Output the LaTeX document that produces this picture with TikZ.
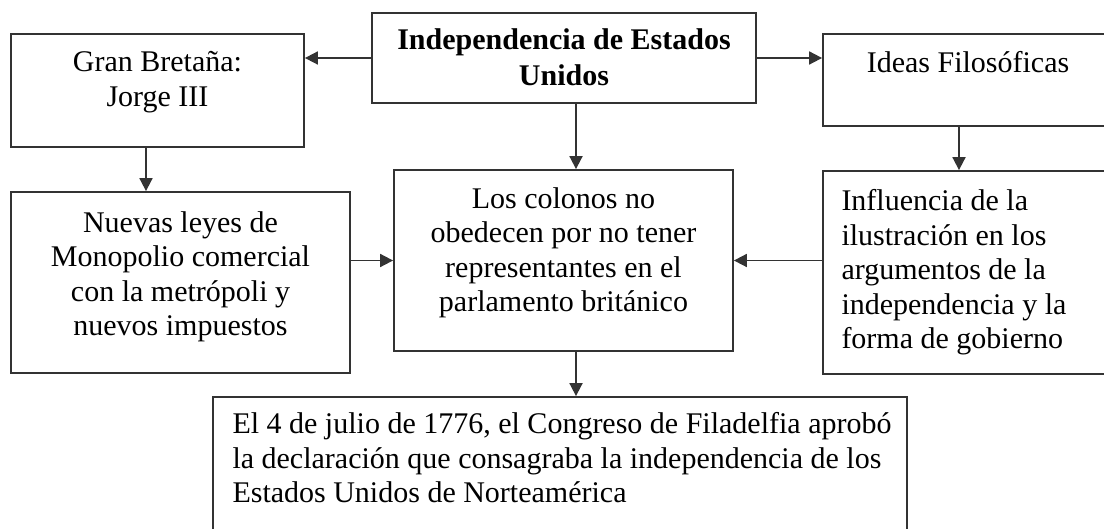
\documentclass[tikz,border=0pt]{standalone}
\usepackage{fontspec}
\setmainfont{Liberation Serif}
\usetikzlibrary{positioning,arrows.meta}
\begin{document}
\begin{tikzpicture}[x=0.5pt,y=-0.5pt,
    box/.style={draw=black!80,line width=0.9pt,inner sep=0pt},
    txt/.style={inner sep=0pt,font=\fontsize{15}{17.25}\selectfont},
    arr/.style={draw=black!80,line width=0.9pt,-{Triangle[length=6.5pt,width=6.5pt]}}]
  \useasboundingbox (0,0) rectangle (1104,529);
  \clip (0,0) rectangle (1104,529);
  % boxes
  \node[box,minimum width=192pt,minimum height=45pt] (indep) at (564,58) {};
  \node[box,minimum width=146.5pt,minimum height=56.5pt] (gb) at (157.5,90.5) {};
  \node[box,minimum width=145pt,minimum height=46pt] (ideas) at (968,80) {};
  \node[box,minimum width=169.5pt,minimum height=90.5pt] (leyes) at (180.5,282.5) {};
  \node[box,minimum width=169.5pt,minimum height=90.5pt] (colonos) at (563.5,260.5) {};
  \node[box,minimum width=145pt,minimum height=101.5pt] (influ) at (968,272.5) {};
  \node[box,minimum width=347pt,minimum height=80pt] (decl) at (560,477) {};
  % texts
  \node[txt,align=center,below=8pt of indep.north,font=\fontsize{15}{18}\selectfont\bfseries] (indeptxt)
    {Independencia de Estados\\Unidos};
  \node[txt,align=center,below=9pt of gb.north] (gbtxt) {Gran Bretaña:\\Jorge III};
  \node[txt,align=center,below=9pt of ideas.north] (ideastxt) {Ideas Filosóficas};
  \node[txt,align=center,below=10pt of leyes.north] (leyestxt)
    {Nuevas leyes de\\Monopolio comercial\\con la metrópoli y\\nuevos impuestos};
  \node[txt,align=center,below=9pt of colonos.north] (colonostxt)
    {Los colonos no\\obedecen por no tener\\representantes en el\\parlamento británico};
  \node[txt,align=left,below right=9.5pt and 9.5pt of influ.north west] (influtxt)
    {Influencia de la\\ilustración en los\\argumentos de la\\independencia y la\\forma de gobierno};
  \node[txt,align=left,below right=8pt and 10pt of decl.north west] (decltxt)
    {El 4 de julio de 1776, el Congreso de Filadelfia aprobó\\la declaración que consagraba la independencia de los\\Estados Unidos de Norteamérica};
  % arrows
  \draw[arr] (indep.west) -- (gb.east |- indep.west);
  \draw[arr] (indep.east) -- (ideas.west |- indep.east);
  \draw[arr] ([xshift=6pt]indep.south) -- ([xshift=6pt]indep.south |- colonos.north);
  \draw[arr] ([xshift=-5.75pt]gb.south) -- ([xshift=-5.75pt]gb.south |- leyes.north);
  \draw[arr] ([xshift=-4.5pt]ideas.south) -- ([xshift=-4.5pt]ideas.south |- influ.north);
  \draw[arr] (leyes.east |- colonos.west) -- (colonos.west);
  \draw[arr] (influ.west |- colonos.east) -- (colonos.east);
  \draw[arr] ([xshift=6.25pt]colonos.south) -- ([xshift=6.25pt]colonos.south |- decl.north);
\end{tikzpicture}
\end{document}
